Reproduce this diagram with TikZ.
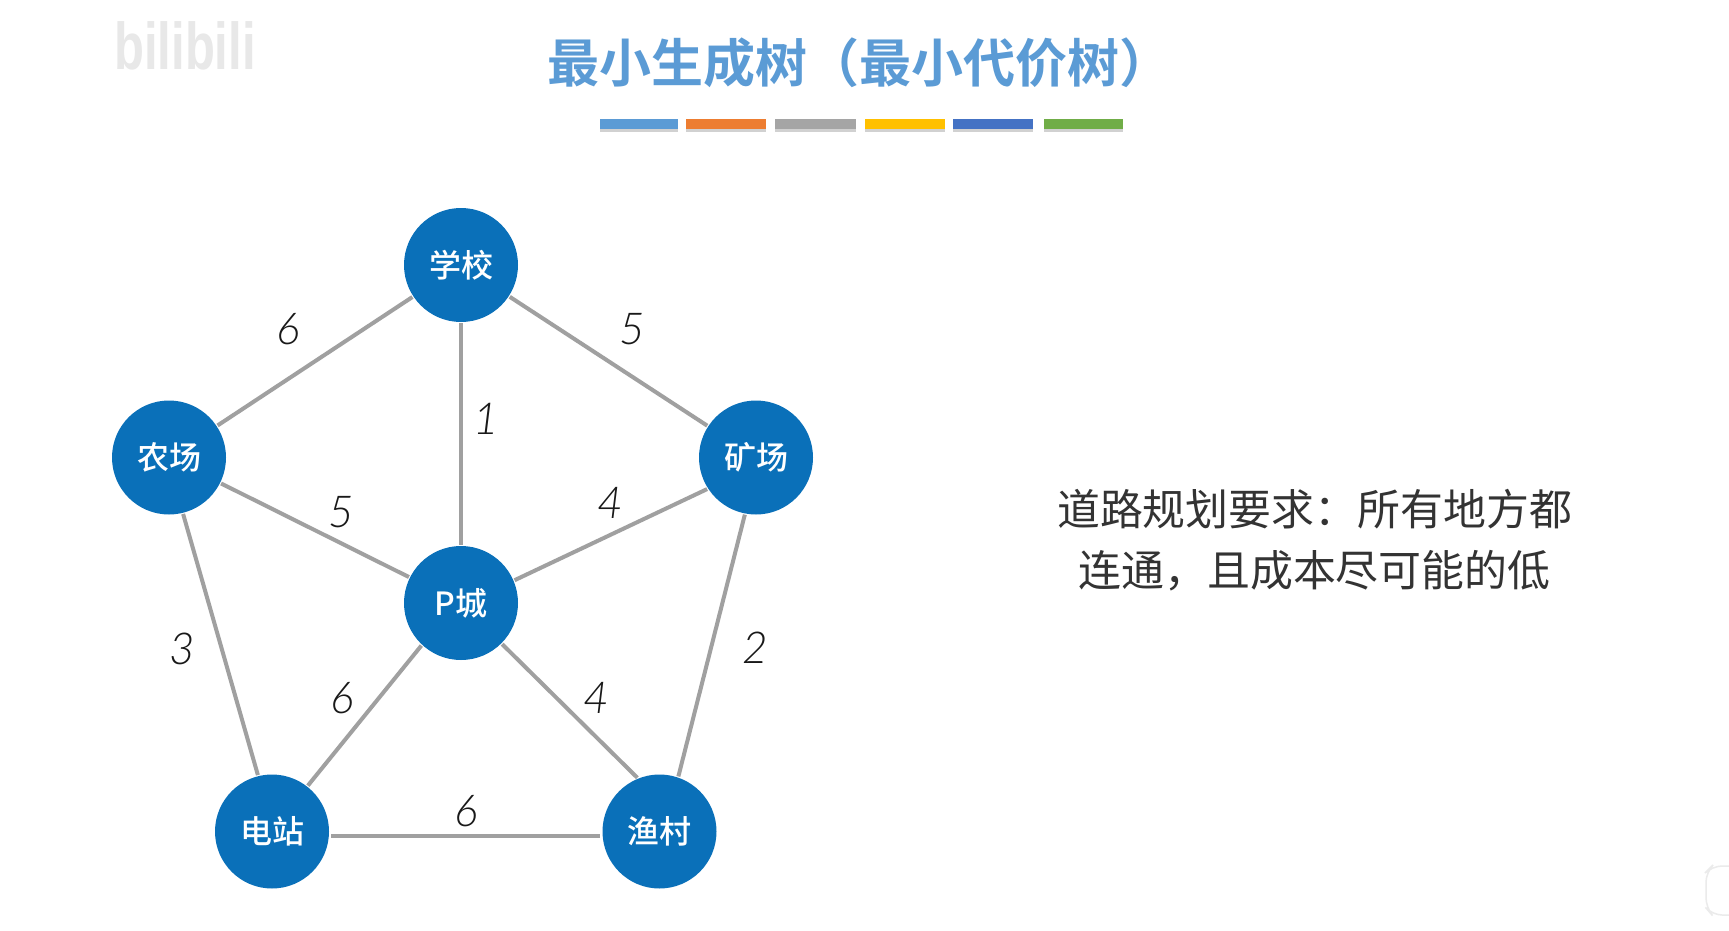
\documentclass[tikz,border=0pt]{standalone}
\usepackage{fontspec}
\setmainfont{Liberation Sans}
\newfontfamily\cjk{Noto Sans CJK SC}
\newfontfamily\cjkm{Noto Sans CJK SC Medium}
\newfontfamily\cjkb{Noto Sans CJK SC Bold}
\newfontfamily\digits{Lato Light Italic}
\definecolor{nodeblue}{HTML}{0A70B9}
\definecolor{edgegray}{HTML}{A0A0A0}
\definecolor{titleblue}{HTML}{5B9BD5}
\definecolor{bodytext}{HTML}{333333}
\tikzset{
  city/.style={circle,fill=nodeblue,draw=none,minimum size=114pt,inner sep=0pt,text=white,font=\cjkm\fontsize{32}{36}\selectfont},
  road/.style={draw=edgegray,line width=4pt,shorten >=1pt,shorten <=1pt},
  weight/.style={font=\digits\fontsize{44}{48}\selectfont,text=black!90,inner sep=0pt},
  bar/.style={draw=none,minimum height=10pt,inner sep=0pt,anchor=west},
  shadowbar/.style={draw=none,fill=black!18,minimum height=10pt,inner sep=0pt,anchor=west},
  body/.style={font=\cjk\fontsize{42.9}{48}\selectfont,text=bodytext,inner sep=0pt}
}
\begin{document}
\begin{tikzpicture}[x=1pt,y=-1pt]
\useasboundingbox (0,0) rectangle (1729,931);
\fill[white] (0,0) rectangle (1729,931);
% watermark
\node[font=\bfseries\fontsize{49}{60}\selectfont,text=black!9,inner sep=0pt,yscale=1.35] (mark) at (185,46) {bilibili};
% faint corner shape
\draw[black!8,fill=white,line width=1.5pt,rounded corners=10pt] (1735,866) -- (1712,866) -- (1706,872) -- (1706,908) -- (1712,915) -- (1735,915);
% title
\node[font=\cjkb\fontsize{52}{58}\selectfont,text=titleblue,inner sep=0pt] (title) at (859,63) {最小生成树（最小代价树）};
% colour bars
\foreach \n/\xa/\w/\c in {a/600/78/5B9BD5,b/686/80/ED7D31,c/775/81/A5A5A5,d/865/80/FFC000,e/953/80/4472C4,f/1044/79/70AD47}{
  \definecolor{barc}{HTML}{\c}
  \node[shadowbar,minimum width=\w pt] (s\n) at (\xa,127.5) {};
  \node[bar,fill=barc,minimum width=\w pt] (b\n) at (\xa,124) {};
}
% cities
\node[city] (school) at (461,265) {学校};
\node[city] (farm) at (169,457.5) {农场};
\node[city] (mine) at (756,457.5) {矿场};
\node[city] (pcity) at (461,603) {P城};
\node[city] (plant) at (272,831.5) {电站};
\node[city] (fish) at (659.5,831.5) {渔村};
% roads
\draw[road] (school) -- (farm);
\draw[road] (school) -- (mine);
\draw[road] (school) -- (pcity);
\draw[road] (farm) -- (pcity);
\draw[road] (mine.213.7) -- (pcity.23.6);
\draw[road] (farm.-76.5) -- (plant.104);
\draw[road] (mine.-101) -- (fish.71.5);
\draw[road] (pcity.-133) -- (plant.52);
\draw[road] (pcity.-45) -- (fish.112);
\draw[road] ([yshift=-4.5pt,xshift=1pt]plant.east) -- ([yshift=-4.5pt,xshift=-1pt]fish.west);
% weights
\node[weight] (w1) at (288,329) {6};
\node[weight] (w2) at (632,329) {5};
\node[weight] (w3) at (486,419) {1};
\node[weight] (w4) at (610,503) {4};
\node[weight] (w5) at (341,512) {5};
\node[weight] (w6) at (182,649) {3};
\node[weight] (w7) at (755,648) {2};
\node[weight] (w8) at (342,698) {6};
\node[weight] (w9) at (596,698) {4};
\node[weight] (w10) at (466,811) {6};
% requirement text
\node[body] (req1) at (1314.5,509) {道路规划要求：所有地方都};
\node[body] (req2) at (1314.5,571) {连通，且成本尽可能的低};
\end{tikzpicture}
\end{document}
